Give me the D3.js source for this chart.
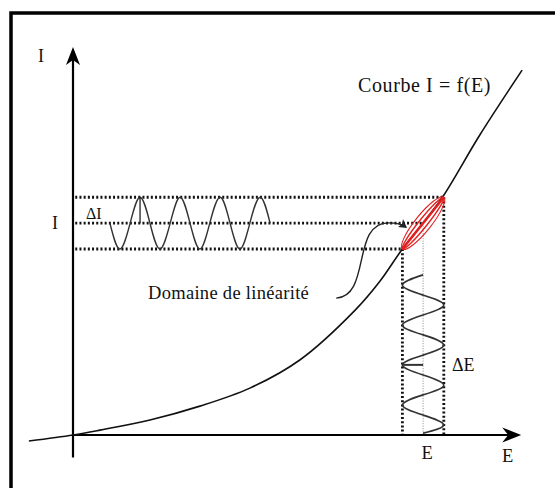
<!DOCTYPE html>
<html>
<head>
<meta charset="utf-8">
<script src="https://cdn.jsdelivr.net/npm/d3@7"></script>
<style>
  body { margin: 0; background: #fff; }
  text { font-family: "Liberation Serif", "DejaVu Serif", serif; fill: #111; }
</style>
</head>
<body>
<script>
// characteristic curve I = f(E), in arbitrary units
const curveE = [-9.8, 0, 6, 17.1, 28.2, 39.3, 50.4, 62.7, 68.2, 73.2, 77.8, 82.2, 90.4, 99.8];
const curveI = [-1.6, 0, 1.3, 4, 7.7, 12.5, 20, 33.3, 41, 49.6, 56.5, 63.6, 80, 97.3];

// operating point and excursions
const E0 = 77.8, dE = 4.6;
const I0 = 56.5, dI = 6.9;

// input signal (vertical, along E) : zero crossings and extremes
const waveEI = [0.5, 2.7, 5.3, 8, 10.7, 13.3, 16, 18.7, 21.3, 24, 26.7, 29.3, 32, 34.7, 37.3, 40, 42.7];
const waveEE = [77.8, 82.4, 77.8, 73.2, 77.8, 82.4, 77.8, 73.2, 77.8, 82.4, 77.8, 73.2, 77.8, 82.4, 77.8, 73.2, 77.8];

// output signal (horizontal, along I)
const waveIE = [8.2, 10.4, 12.7, 14.9, 17.1, 19.3, 21.6, 23.8, 26, 28.2, 30.4, 32.7, 34.9, 37.1, 39.3, 41.6, 43.8];
const waveII = [56.5, 49.6, 56.5, 63.4, 56.5, 49.6, 56.5, 63.4, 56.5, 49.6, 56.5, 63.4, 56.5, 49.6, 56.5, 63.4, 56.5];

const labels = {
	curve: "Courbe I = f(E)",
	domain: "Domaine de linéarité",
	dI: "\u0394I",
	dE: "\u0394E"
};

const W = 555, H = 488;
const svg = d3.select("body").append("svg").attr("width", W).attr("height", H);

const x = d3.scaleLinear().domain([0, 100]).range([73, 523]);
const y = d3.scaleLinear().domain([0, 100]).range([435, 60]);

// frame
svg.append("path")
	.attr("d", `M11,${H} V13 H${W}`)
	.attr("fill", "none").attr("stroke", "#000").attr("stroke-width", 3.5);

// dotted guides
const dots = svg.append("g").attr("stroke", "#111").attr("stroke-width", 2.8)
	.attr("stroke-dasharray", "2,2.2").attr("fill", "none");
dots.append("line").attr("x1", x(0.5)).attr("x2", x(E0 + dE)).attr("y1", y(I0 + dI)).attr("y2", y(I0 + dI));
dots.append("line").attr("x1", x(0.5)).attr("x2", x(E0)).attr("y1", y(I0)).attr("y2", y(I0));
dots.append("line").attr("x1", x(0.5)).attr("x2", x(E0 - dE)).attr("y1", y(I0 - dI)).attr("y2", y(I0 - dI));
dots.append("line").attr("x1", x(E0 - dE)).attr("x2", x(E0 - dE)).attr("y1", y(I0 - dI)).attr("y2", y(0));
dots.append("line").attr("x1", x(E0 + dE)).attr("x2", x(E0 + dE)).attr("y1", y(I0 + dI)).attr("y2", y(0));

svg.append("line")
	.attr("x1", x(E0)).attr("x2", x(E0)).attr("y1", y(I0)).attr("y2", y(0))
	.attr("stroke", "#888").attr("stroke-width", 1).attr("stroke-dasharray", "1,1.5");

// axes
const axes = svg.append("g").attr("stroke", "#000").attr("stroke-width", 2.2);
axes.append("line").attr("x1", x(0)).attr("x2", x(0)).attr("y1", y(-6)).attr("y2", y(101));
axes.append("line").attr("x1", x(0)).attr("x2", x(97.5)).attr("y1", y(0)).attr("y2", y(0));

const tipY = [x(0), y(103.5)];
svg.append("path")
	.attr("d", `M${tipY[0]},${tipY[1]} L${tipY[0] + 7},${tipY[1] + 18} L${tipY[0]},${tipY[1] + 13} L${tipY[0] - 7},${tipY[1] + 18} Z`)
	.attr("fill", "#000");
const tipX = [x(99.6), y(0)];
svg.append("path")
	.attr("d", `M${tipX[0]},${tipX[1]} L${tipX[0] - 19},${tipX[1] + 7.5} L${tipX[0] - 13},${tipX[1]} L${tipX[0] - 19},${tipX[1] - 7.5} Z`)
	.attr("fill", "#000");

// characteristic curve
const curve = d3.line().x(d => x(d[0])).y(d => y(d[1])).curve(d3.curveCatmullRom);
svg.append("path")
	.datum(d3.zip(curveE, curveI))
	.attr("d", curve)
	.attr("fill", "none").attr("stroke", "#111").attr("stroke-width", 1.6);

// signals
const wave = d3.line().x(d => x(d[0])).y(d => y(d[1])).curve(d3.curveNatural);
svg.append("path")
	.datum(d3.zip(waveEE, waveEI))
	.attr("d", wave)
	.attr("fill", "none").attr("stroke", "#333").attr("stroke-width", 1.6);
svg.append("path")
	.datum(d3.zip(waveIE, waveII))
	.attr("d", wave)
	.attr("fill", "none").attr("stroke", "#333").attr("stroke-width", 1.4);

// amplitude marks
svg.append("line")
	.attr("x1", x(waveIE[3])).attr("x2", x(waveIE[3])).attr("y1", y(I0)).attr("y2", y(I0 + dI))
	.attr("stroke", "#222").attr("stroke-width", 1.3);
svg.append("line")
	.attr("x1", x(E0 - dE)).attr("x2", x(E0)).attr("y1", y(waveEI[7])).attr("y2", y(waveEI[7]))
	.attr("stroke", "#333").attr("stroke-width", 2);

// linear region lens (red)
const p1 = [x(E0 - dE), y(I0 - dI)], p2 = [x(E0 + dE), y(I0 + dI)];
const cx = (p1[0] + p2[0]) / 2, cy = (p1[1] + p2[1]) / 2;
const len = Math.hypot(p2[0] - p1[0], p2[1] - p1[1]) / 2;
const ang = Math.atan2(p2[1] - p1[1], p2[0] - p1[0]) * 180 / Math.PI;
const lens = svg.append("g").attr("transform", `translate(${cx},${cy}) rotate(${ang})`)
	.attr("fill", "none").attr("stroke", "#e02020");
lens.append("ellipse").attr("rx", len).attr("ry", 8).attr("stroke-width", 1.1);
lens.append("ellipse").attr("rx", len).attr("ry", 4.2).attr("stroke-width", 1.4);
lens.append("line").attr("x1", -len).attr("x2", len).attr("stroke-width", 2.6);

// annotation arrow
const a0 = [x(58.5), y(36.5)];
const a1 = [x(E0 - dE + 0.8), y(I0 - 1)];
svg.append("path")
	.attr("d", `M${a0[0]},${a0[1]} C${a0[0] + 35},${a0[1] - 2} ${a0[0] + 15},${a1[1] - 4} ${a0[0] + 52},${a1[1] - 4} Q${a1[0] - 6},${a1[1] - 4} ${a1[0]},${a1[1]}`)
	.attr("fill", "none").attr("stroke", "#222").attr("stroke-width", 1.4);
svg.append("path")
	.attr("d", `M${a1[0] + 1},${a1[1] + 1} l-9,-1 l4,-3 l1,-5 Z`)
	.attr("fill", "#222");

// texts
svg.append("text").attr("x", 358).attr("y", y(91.5)).attr("font-size", 20).attr("letter-spacing", 0.6).text(labels.curve);
svg.append("text").attr("x", 148).attr("y", y(36.3)).attr("font-size", 18.5).attr("letter-spacing", 0.3).text(labels.domain);
svg.append("text").attr("x", 38).attr("y", y(99.5)).attr("font-size", 18).text("I");
svg.append("text").attr("x", 52).attr("y", y(I0) + 6).attr("font-size", 18).text("I");
svg.append("text").attr("x", 86).attr("y", y(I0) - 4).attr("font-size", 16).text(labels.dI);
svg.append("text").attr("x", 452).attr("y", y(waveEI[7]) + 6).attr("font-size", 18).text(labels.dE);
svg.append("text").attr("x", x(E0) + 4).attr("y", y(0) + 24).attr("text-anchor", "middle").attr("font-size", 18.5).text("E");
svg.append("text").attr("x", 502).attr("y", y(0) + 27).attr("font-size", 18.5).text("E");
</script>
</body>
</html>
